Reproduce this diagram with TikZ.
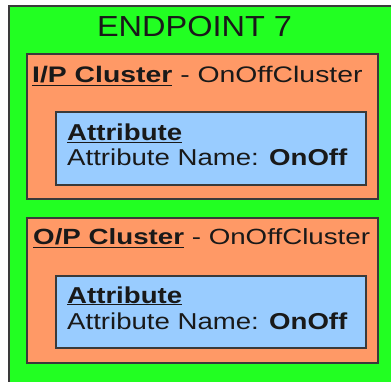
\documentclass[tikz,border=0pt]{standalone}
\usepackage{fontspec}
\setmainfont{Liberation Sans}
\newfontfamily\titlefont[FakeStretch=1.12]{Liberation Sans}
\newfontfamily\clusterfont[FakeStretch=1.26]{Liberation Sans}
\newfontfamily\attrfont[FakeStretch=1.2]{Liberation Sans}
\definecolor{epgreen}{HTML}{22FF22}
\definecolor{clorange}{HTML}{FF9966}
\definecolor{atblue}{HTML}{99CCFF}
\definecolor{edge}{HTML}{3A3A3A}
\tikzset{
  endpointbox/.style={draw=edge,line width=1.2pt,fill=epgreen},
  clusterbox/.style={draw=edge,line width=1.2pt,fill=clorange},
  attrbox/.style={draw=edge,line width=1.2pt,fill=atblue},
  txt/.style={inner sep=0pt,anchor=base west,text=black!90}
}
\begin{document}
\begin{tikzpicture}[x=1pt,y=-1pt]
\useasboundingbox[fill=white] (0,0) rectangle (391,382);
% endpoint
\draw[endpointbox] (9,6) rectangle (397,388);
\node[txt,anchor=base] (ep) at (194.5,37) {\titlefont\fontsize{29}{33}\selectfont ENDPOINT 7};
% input cluster
\draw[clusterbox] (27,54) rectangle (378,199);
\node[txt] (ipc) at (32,83) {\clusterfont\fontsize{22.5}{26}\selectfont\underline{\textbf{I/P Cluster}} - OnOffCluster};
\draw[attrbox] (56,112) rectangle (366,185);
\node[txt] (ipa) at (67,141) {\attrfont\fontsize{23}{27}\selectfont\underline{\textbf{Attribute}}};
\node[txt] (ipn) at (67,166) {\attrfont\fontsize{23}{27}\selectfont Attribute Name: \textbf{OnOff}};
% output cluster
\draw[clusterbox] (27,218) rectangle (378,363);
\node[txt] (opc) at (33,245) {\clusterfont\fontsize{22}{26}\selectfont\underline{\textbf{O/P Cluster}} - OnOffCluster};
\draw[attrbox] (56,276) rectangle (366,348);
\node[txt] (opa) at (67,303) {\attrfont\fontsize{23}{27}\selectfont\underline{\textbf{Attribute}}};
\node[txt] (opn) at (67,329) {\attrfont\fontsize{23}{27}\selectfont Attribute Name: \textbf{OnOff}};
\end{tikzpicture}
\end{document}
